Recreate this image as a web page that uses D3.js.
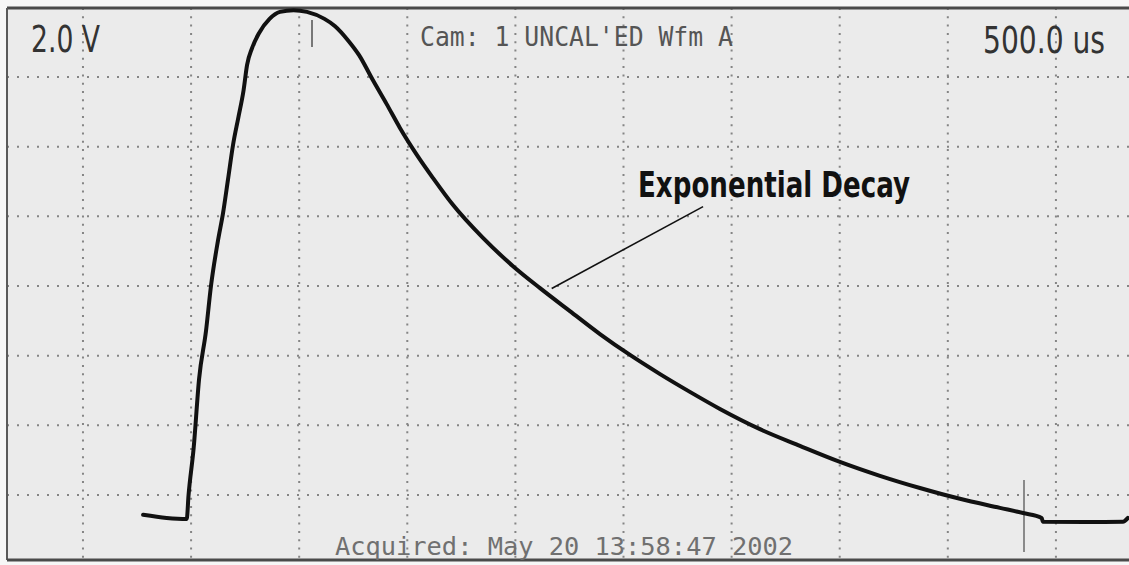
<!DOCTYPE html>
<html>
<head>
<meta charset="utf-8">
<script src="https://cdn.jsdelivr.net/npm/d3@7"></script>
<style>
  html, body { margin: 0; padding: 0; background: #f7f7f7; }
  svg { display: block; }
  .mono { font-family: "DejaVu Sans Mono", "Liberation Mono", monospace; }
  .narrow { font-family: "Liberation Sans Narrow", "DejaVu Sans Condensed", "Liberation Sans", sans-serif; }
</style>
</head>
<body>
<svg id="scope" width="1129" height="565"></svg>
<script>
// waveform: time in microseconds, level in volts
var timeUs = [278, 387, 480, 488, 512, 537, 569, 592, 624, 648, 671, 694, 719, 743, 759, 782,
    814, 863, 911, 974, 1036, 1117, 1166, 1229, 1277, 1340, 1404, 1466, 1545, 1619, 1711, 1850,
    1989, 2114, 2252, 2391, 2530, 2669, 2807, 2946, 3131, 3316, 3501, 3686, 3871, 4056, 4241,
    4348, 4434, 4440, 4642, 4810, 4833];
var volts = [-6.57, -6.66, -6.69, -6.03, -4.65, -2.67, -1.29, 0.0, 1.29, 2.10, 3.07, 4.05, 4.85, 5.63, 6.35, 6.83,
    7.26, 7.67, 7.87, 7.92, 7.87, 7.67, 7.46, 7.03, 6.63, 5.92, 5.23, 4.54, 3.76, 3.10, 2.33, 1.38,
    0.57, -0.06, -0.72, -1.38, -1.98, -2.53, -3.04, -3.53, -4.11, -4.59, -5.05, -5.45, -5.80, -6.11, -6.37,
    -6.52, -6.66, -6.77, -6.78, -6.77, -6.66];

// graticule: 500 us / div, 2.0 V / div
var gridTimes = [0, 500, 1000, 1500, 2000, 2500, 3000, 3500, 4000, 4500];
var gridVolts = [-6, -4, -2, 0, 2, 4, 6];

// annotation pointer (time, volts) from curve to label
var pointerTimes = [2168, 2868];
var pointerVolts = [-0.07, 2.28];

var scaleText = "2.0 V";
var timebaseText = "500.0 us";
var headerText = "Cam: 1 UNCAL'ED Wfm A";
var footerText = "Acquired: May 20 13:58:47 2002";
var labelText = "Exponential Decay";

var svg = d3.select("#scope");
var width = 1129, height = 565;
var frameLeft = 7, frameTop = 8, frameBottom = 560;

var x = d3.scaleLinear().domain([-350, 4850]).range([7.3, 1131.6]);
var y = d3.scaleLinear().domain([-8, 8]).range([564.6, 7.4]);

// screen background
svg.append("rect")
    .attr("x", frameLeft).attr("y", frameTop)
    .attr("width", width - frameLeft).attr("height", frameBottom - frameTop)
    .style("fill", "#ebebeb");

// dotted graticule
svg.append("g").selectAll("line")
    .data(gridTimes)
    .enter().append("line")
    .attr("x1", function (d) { return x(d); })
    .attr("x2", function (d) { return x(d); })
    .attr("y1", frameTop)
    .attr("y2", frameBottom)
    .style("stroke", "#858585")
    .style("stroke-width", 2)
    .style("stroke-dasharray", "2,6.3");

svg.append("g").selectAll("line")
    .data(gridVolts)
    .enter().append("line")
    .attr("x1", frameLeft)
    .attr("x2", width)
    .attr("y1", function (d) { return y(d); })
    .attr("y2", function (d) { return y(d); })
    .style("stroke", "#858585")
    .style("stroke-width", 2)
    .style("stroke-dasharray", "2,8");

// frame edges
svg.append("line").attr("x1", frameLeft).attr("x2", width).attr("y1", frameTop).attr("y2", frameTop)
    .style("stroke", "#4a4a4a").style("stroke-width", 3);
svg.append("line").attr("x1", frameLeft).attr("x2", frameLeft).attr("y1", frameTop).attr("y2", frameBottom)
    .style("stroke", "#5a5a5a").style("stroke-width", 2);
svg.append("line").attr("x1", frameLeft).attr("x2", width).attr("y1", frameBottom).attr("y2", frameBottom)
    .style("stroke", "#4a4a4a").style("stroke-width", 3);

// trigger / cursor marks
svg.append("line").attr("x1", 312).attr("x2", 312).attr("y1", 20).attr("y2", 47)
    .style("stroke", "#777").style("stroke-width", 2);
svg.append("line").attr("x1", 1024).attr("x2", 1024).attr("y1", 480).attr("y2", 552)
    .style("stroke", "#8a8a8a").style("stroke-width", 2);

// the trace
var trace = d3.line()
    .curve(d3.curveMonotoneX)
    .x(function (d) { return x(d[0]); })
    .y(function (d) { return y(d[1]); });

svg.append("path")
    .datum(d3.zip(timeUs, volts))
    .attr("d", trace)
    .style("fill", "none")
    .style("stroke", "#111")
    .style("stroke-width", 4)
    .style("stroke-linejoin", "round")
    .style("stroke-linecap", "round");

// label pointer
svg.append("path")
    .datum(d3.zip(pointerTimes, pointerVolts))
    .attr("d", d3.line()
        .x(function (d) { return x(d[0]); })
        .y(function (d) { return y(d[1]); }))
    .style("fill", "none")
    .style("stroke", "#111")
    .style("stroke-width", 1.6);

// texts
function addText(txt, cls, px, py, size, len, color, weight) {
    return svg.append("text")
        .attr("class", cls)
        .attr("x", px).attr("y", py)
        .attr("textLength", len)
        .attr("lengthAdjust", "spacingAndGlyphs")
        .style("font-size", size + "px")
        .style("font-weight", weight || "normal")
        .style("fill", color)
        .text(txt);
}

addText(scaleText, "narrow", 31, 52, 37, 69, "#333");
addText(timebaseText, "narrow", 983, 53, 37, 122, "#333");
addText(headerText, "mono", 420, 46, 26, 313, "#555");
addText(footerText, "mono", 335, 555, 25, 458, "#707070");
addText(labelText, "narrow", 638, 197, 35, 272, "#111", "bold");
</script>
</body>
</html>
